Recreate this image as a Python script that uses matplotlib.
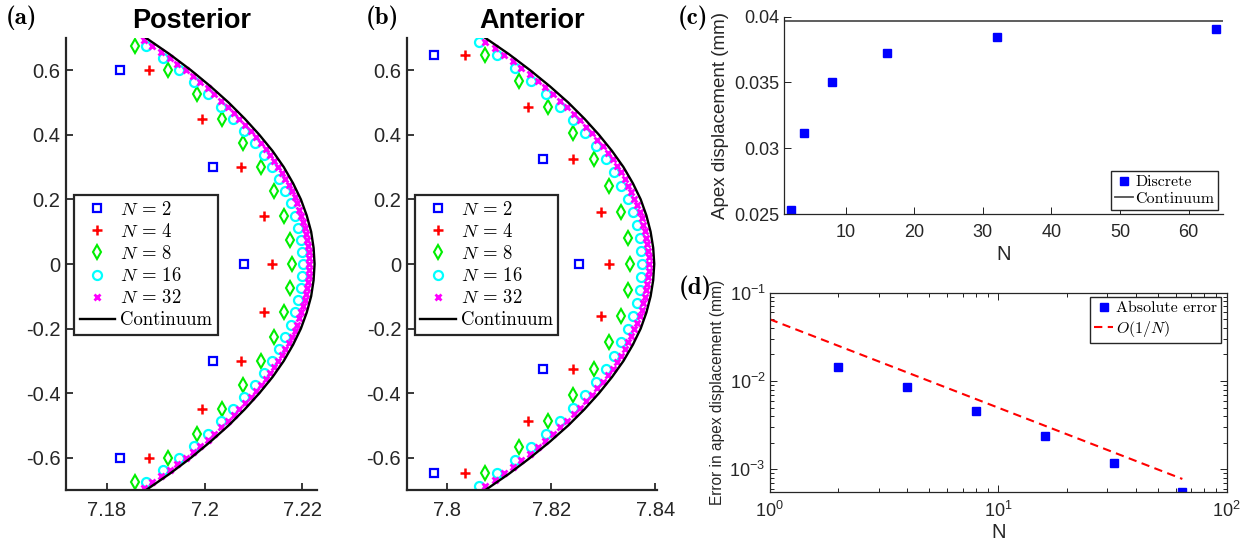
import matplotlib
matplotlib.use('Agg')
import matplotlib.pyplot as plt
from matplotlib import ticker as mticker
from matplotlib.font_manager import FontProperties

plt.rcParams['font.family'] = ['Liberation Sans', 'DejaVu Sans']
plt.rcParams['axes.unicode_minus'] = False

# ---- (a) posterior profile -------------------------------------------
ya2 = [-0.6, -0.3, 0.0, 0.3, 0.6]
xa2 = [7.1827, 7.2017, 7.2080, 7.2017, 7.1827]
ya4 = [-0.6, -0.45, -0.3, -0.15, 0.0, 0.15, 0.3, 0.45, 0.6]
xa4 = [7.1885, 7.1995, 7.2075, 7.2122, 7.2138, 7.2122, 7.2075, 7.1995, 7.1885]
ya8 = [-0.675, -0.6, -0.525, -0.45, -0.375, -0.3, -0.225, -0.15, -0.075, 0.0,
       0.075, 0.15, 0.225, 0.3, 0.375, 0.45, 0.525, 0.6, 0.675]
xa8 = [7.1857, 7.1925, 7.1984, 7.2035, 7.2079, 7.2115, 7.2142, 7.2162, 7.2174, 7.2178,
       7.2174, 7.2162, 7.2142, 7.2115, 7.2079, 7.2035, 7.1984, 7.1925, 7.1857]
ya16 = [-0.675, -0.6375, -0.6, -0.5625, -0.525, -0.4875, -0.45, -0.4125, -0.375, -0.3375,
        -0.3, -0.2625, -0.225, -0.1875, -0.15, -0.1125, -0.075, -0.0375, 0.0, 0.0375,
        0.075, 0.1125, 0.15, 0.1875, 0.225, 0.2625, 0.3, 0.3375, 0.375, 0.4125,
        0.45, 0.4875, 0.525, 0.5625, 0.6, 0.6375, 0.675]
xa16 = [7.1880, 7.1915, 7.1948, 7.1978, 7.2007, 7.2034, 7.2058, 7.2081, 7.2102, 7.2121,
        7.2138, 7.2152, 7.2165, 7.2176, 7.2185, 7.2192, 7.2197, 7.2200, 7.2201, 7.2200,
        7.2197, 7.2192, 7.2185, 7.2176, 7.2165, 7.2152, 7.2138, 7.2121, 7.2102, 7.2081,
        7.2058, 7.2034, 7.2007, 7.1978, 7.1948, 7.1915, 7.1880]
ya32 = [-0.69375, -0.675, -0.65625, -0.6375, -0.61875, -0.6, -0.58125, -0.5625, -0.54375, -0.525,
        -0.50625, -0.4875, -0.46875, -0.45, -0.43125, -0.4125, -0.39375, -0.375, -0.35625, -0.3375,
        -0.31875, -0.3, -0.28125, -0.2625, -0.24375, -0.225, -0.20625, -0.1875, -0.16875, -0.15,
        -0.13125, -0.1125, -0.09375, -0.075, -0.05625, -0.0375, -0.01875, 0.0, 0.01875, 0.0375,
        0.05625, 0.075, 0.09375, 0.1125, 0.13125, 0.15, 0.16875, 0.1875, 0.20625, 0.225,
        0.24375, 0.2625, 0.28125, 0.3, 0.31875, 0.3375, 0.35625, 0.375, 0.39375, 0.4125,
        0.43125, 0.45, 0.46875, 0.4875, 0.50625, 0.525, 0.54375, 0.5625, 0.58125, 0.6,
        0.61875, 0.6375, 0.65625, 0.675, 0.69375]
xa32 = [7.1875, 7.1893, 7.1911, 7.1928, 7.1944, 7.1961, 7.1976, 7.1991, 7.2006, 7.2020,
        7.2034, 7.2047, 7.2059, 7.2071, 7.2083, 7.2094, 7.2105, 7.2115, 7.2125, 7.2134,
        7.2142, 7.2151, 7.2158, 7.2165, 7.2172, 7.2178, 7.2184, 7.2189, 7.2194, 7.2198,
        7.2202, 7.2205, 7.2208, 7.2210, 7.2212, 7.2213, 7.2214, 7.2214, 7.2214, 7.2213,
        7.2212, 7.2210, 7.2208, 7.2205, 7.2202, 7.2198, 7.2194, 7.2189, 7.2184, 7.2178,
        7.2172, 7.2165, 7.2158, 7.2151, 7.2142, 7.2134, 7.2125, 7.2115, 7.2105, 7.2094,
        7.2083, 7.2071, 7.2059, 7.2047, 7.2034, 7.2020, 7.2006, 7.1991, 7.1976, 7.1961,
        7.1944, 7.1928, 7.1911, 7.1893, 7.1875]
yc = [-0.7, -0.65, -0.6, -0.55, -0.5, -0.45, -0.4, -0.35, -0.3, -0.25, -0.2, -0.15, -0.1, -0.05, 0.0,
      0.05, 0.1, 0.15, 0.2, 0.25, 0.3, 0.35, 0.4, 0.45, 0.5, 0.55, 0.6, 0.65, 0.7]
xa_cont = [7.1880, 7.1928, 7.1972, 7.2012, 7.2049, 7.2082, 7.2112, 7.2139, 7.2162, 7.2181,
           7.2197, 7.2209, 7.2218, 7.2223, 7.2225, 7.2223, 7.2218, 7.2209, 7.2197, 7.2181,
           7.2162, 7.2139, 7.2112, 7.2082, 7.2049, 7.2012, 7.1972, 7.1928, 7.1880]

# ---- (b) anterior profile --------------------------------------------
yb2 = [-0.648, -0.324, 0.0, 0.324, 0.648]
xb2 = [7.7975, 7.8184, 7.8253, 7.8184, 7.7975]
yb4 = [-0.648, -0.486, -0.324, -0.162, 0.0, 0.162, 0.324, 0.486, 0.648]
xb4 = [7.8034, 7.8156, 7.8243, 7.8295, 7.8312, 7.8295, 7.8243, 7.8156, 7.8034]
yb8 = [-0.648, -0.567, -0.486, -0.405, -0.324, -0.243, -0.162, -0.081, 0.0,
       0.081, 0.162, 0.243, 0.324, 0.405, 0.486, 0.567, 0.648]
xb8 = [7.8073, 7.8138, 7.8195, 7.8243, 7.8282, 7.8312, 7.8334, 7.8347, 7.8351,
       7.8347, 7.8334, 7.8312, 7.8282, 7.8243, 7.8195, 7.8138, 7.8073]
yb16 = [-0.6885, -0.648, -0.6075, -0.567, -0.5265, -0.486, -0.4455, -0.405, -0.3645, -0.324,
        -0.2835, -0.243, -0.2025, -0.162, -0.1215, -0.081, -0.0405, 0.0, 0.0405, 0.081,
        0.1215, 0.162, 0.2025, 0.243, 0.2835, 0.324, 0.3645, 0.405, 0.4455, 0.486,
        0.5265, 0.567, 0.6075, 0.648, 0.6885]
xb16 = [7.8061, 7.8096, 7.8130, 7.8161, 7.8191, 7.8218, 7.8243, 7.8266, 7.8286, 7.8305,
        7.8321, 7.8335, 7.8347, 7.8357, 7.8364, 7.8370, 7.8373, 7.8374, 7.8373, 7.8370,
        7.8364, 7.8357, 7.8347, 7.8335, 7.8321, 7.8305, 7.8286, 7.8266, 7.8243, 7.8218,
        7.8191, 7.8161, 7.8130, 7.8096, 7.8061]
yb32 = [-0.6885, -0.66825, -0.648, -0.62775, -0.6075, -0.58725, -0.567, -0.54675, -0.5265, -0.50625,
        -0.486, -0.46575, -0.4455, -0.42525, -0.405, -0.38475, -0.3645, -0.34425, -0.324, -0.30375,
        -0.2835, -0.26325, -0.243, -0.22275, -0.2025, -0.18225, -0.162, -0.14175, -0.1215, -0.10125,
        -0.081, -0.06075, -0.0405, -0.02025, 0.0, 0.02025, 0.0405, 0.06075, 0.081, 0.10125,
        0.1215, 0.14175, 0.162, 0.18225, 0.2025, 0.22275, 0.243, 0.26325, 0.2835, 0.30375,
        0.324, 0.34425, 0.3645, 0.38475, 0.405, 0.42525, 0.4455, 0.46575, 0.486, 0.50625,
        0.5265, 0.54675, 0.567, 0.58725, 0.6075, 0.62775, 0.648, 0.66825, 0.6885]
xb32 = [7.8074, 7.8092, 7.8109, 7.8127, 7.8143, 7.8159, 7.8175, 7.8189, 7.8204, 7.8218,
        7.8231, 7.8244, 7.8256, 7.8267, 7.8279, 7.8289, 7.8299, 7.8309, 7.8318, 7.8326,
        7.8334, 7.8341, 7.8348, 7.8354, 7.8360, 7.8365, 7.8370, 7.8374, 7.8377, 7.8380,
        7.8383, 7.8385, 7.8386, 7.8387, 7.8387, 7.8387, 7.8386, 7.8385, 7.8383, 7.8380,
        7.8377, 7.8374, 7.8370, 7.8365, 7.8360, 7.8354, 7.8348, 7.8341, 7.8334, 7.8326,
        7.8318, 7.8309, 7.8299, 7.8289, 7.8279, 7.8267, 7.8256, 7.8244, 7.8231, 7.8218,
        7.8204, 7.8189, 7.8175, 7.8159, 7.8143, 7.8127, 7.8109, 7.8092, 7.8074]
xb_cont = [7.8074, 7.8119, 7.8160, 7.8198, 7.8233, 7.8264, 7.8292, 7.8317, 7.8339, 7.8357,
           7.8372, 7.8383, 7.8391, 7.8396, 7.8398, 7.8396, 7.8391, 7.8383, 7.8372, 7.8357,
           7.8339, 7.8317, 7.8292, 7.8264, 7.8233, 7.8198, 7.8160, 7.8119, 7.8074]

# ---- (c), (d) apex displacement ----------------------------------------
n_vals = [2, 4, 8, 16, 32, 64]
apex_disc = [0.0253, 0.03113, 0.0350, 0.03723, 0.03846, 0.03906]
apex_cont = 0.03967
abs_err = [0.0143, 0.0085, 0.0046, 0.0024, 0.00118, 0.00056]
ref_n = [1, 64]
ref_err = [0.05, 0.00078]

series_labels = [r'$N\,=\,2$', r'$N\,=\,4$', r'$N\,=\,8$', r'$N\,=\,16$', r'$N\,=\,32$']
AXC = '#262626'


def marker_styles():
    return [dict(marker='s', color='#0000ff', mfc='none', ms=5.5, mew=1.6),
            dict(marker='+', color='#ff0000', ms=6.5, mew=1.8),
            dict(marker='d', color='#00ee00', mfc='none', ms=7.6, mew=1.5),
            dict(marker='o', color='#00ffff', mfc='none', ms=6.5, mew=1.6),
            dict(marker='x', color='#ff00ff', ms=3.8, mew=2.0)]


def style_axes(ax, lw, size, box=False):
    for s in ['top', 'right']:
        ax.spines[s].set_visible(box)
    for s in ax.spines.values():
        s.set_linewidth(lw)
        s.set_color(AXC)
    ax.tick_params(which='both', direction='in', colors=AXC, labelsize=size,
                   width=lw * 0.8, top=box, right=box)
    ax.tick_params(which='major', length=5)
    ax.tick_params(which='minor', length=3)


def gfmt(v, p):
    return '%g' % (round(v, 5) + 0.0)


def shape_panel(ax, xs, ys, xc, xlim, xticks, title):
    for x, y, st, lab in zip(xs, ys, marker_styles(), series_labels):
        ax.plot(x, y, linestyle='none', label=lab, **st)
    ax.plot(xc, yc, color='k', lw=1.7, label=r'Continuum')
    ax.set_xlim(xlim)
    ax.set_ylim(-0.7, 0.7)
    ax.set_xticks(xticks)
    ax.set_yticks([-0.6, -0.4, -0.2, 0.0, 0.2, 0.4, 0.6])
    ax.xaxis.set_major_formatter(mticker.FuncFormatter(gfmt))
    ax.yaxis.set_major_formatter(mticker.FuncFormatter(gfmt))
    style_axes(ax, 1.6, 14.5)
    ax.tick_params(axis='x', pad=8)
    ax.tick_params(axis='y', pad=4)
    ax.set_title(title, fontsize=19.5, fontweight='bold', pad=7, color='k')
    leg = ax.legend(loc='lower left', bbox_to_anchor=(0.032, 0.343), borderaxespad=0,
                    prop=FontProperties(family='cmr10', size=13.5, math_fontfamily='cm'),
                    numpoints=1, handlelength=1.9, handletextpad=0.25, borderpad=0.3,
                    labelspacing=0.22, fancybox=False, framealpha=1)
    leg.get_frame().set_edgecolor(AXC)
    leg.get_frame().set_linewidth(1.6)


fig = plt.figure(figsize=(12.55, 5.53), dpi=100)

axA = fig.add_axes([0.0526, 0.1139, 0.2000, 0.8174])
shape_panel(axA, [xa2, xa4, xa8, xa16, xa32], [ya2, ya4, ya8, ya16, ya32], xa_cont,
            (7.1716, 7.2230), [7.18, 7.2, 7.22], 'Posterior')

axB = fig.add_axes([0.3241, 0.1139, 0.1997, 0.8174])
shape_panel(axB, [xb2, xb4, xb8, xb16, xb32], [yb2, yb4, yb8, yb16, yb32], xb_cont,
            (7.7923, 7.8404), [7.8, 7.82, 7.84], 'Anterior')

# (c) apex displacement vs N
axC = fig.add_axes([0.6245, 0.6130, 0.3500, 0.3568])
axC.plot(n_vals, apex_disc, linestyle='none', marker='s', color='#0000ff', ms=5.8, label='Discrete')
axC.axhline(apex_cont, color='#505050', lw=1.3, label='Continuum')
axC.set_xlim(1, 65)
axC.set_ylim(0.025, 0.04)
axC.set_xticks([10, 20, 30, 40, 50, 60])
axC.set_yticks([0.025, 0.03, 0.035, 0.04])
axC.yaxis.set_major_formatter(mticker.FuncFormatter(gfmt))
style_axes(axC, 0.9, 13)
axC.tick_params(axis='x', pad=7)
axC.tick_params(axis='y', pad=3)
axC.set_xlabel('N', fontsize=14.5, color=AXC, labelpad=3)
axC.set_ylabel('Apex displacement (mm)', fontsize=13.5, color=AXC, labelpad=4)
leg = axC.legend(loc='lower right', bbox_to_anchor=(0.989, 0.02), borderaxespad=0,
                 prop=FontProperties(family='cmr10', size=11.5), numpoints=1,
                 handlelength=1.1, handletextpad=0.15, borderpad=0.25, labelspacing=0.15,
                 fancybox=False, framealpha=1)
leg.get_frame().set_edgecolor(AXC)
leg.get_frame().set_linewidth(1.0)

# (d) error, log-log
axD = fig.add_axes([0.6133, 0.1109, 0.3641, 0.3599])
axD.loglog(n_vals, abs_err, linestyle='none', marker='s', color='#0000ff', ms=5.8, label='Absolute error')
axD.loglog(ref_n, ref_err, color='#ff0000', lw=1.5, linestyle=(0, (4, 2.6)), label=r'$O(1/N)$')
axD.set_xlim(1, 100)
axD.set_ylim(abs_err[-1], 0.1)
style_axes(axD, 0.9, 13, box=True)
axD.tick_params(axis='x', pad=7)
axD.tick_params(axis='y', pad=3)
axD.set_xlabel('N', fontsize=14.5, color=AXC, labelpad=1)
axD.set_ylabel('Error in apex displacement (mm)', fontsize=11.2, color=AXC, labelpad=3)
leg = axD.legend(loc='upper right', bbox_to_anchor=(0.9875, 0.977), borderaxespad=0,
                 prop=FontProperties(family='cmr10', size=11.5, math_fontfamily='cm'), numpoints=1,
                 handlelength=1.2, handletextpad=0.15, borderpad=0.25, labelspacing=0.2,
                 fancybox=False, framealpha=1)
leg.get_frame().set_edgecolor(AXC)
leg.get_frame().set_linewidth(1.0)

# panel letters
lab_font = FontProperties(family='cmb10', size=18)
for txt, x, y in [('(a)', 6, 18), ('(b)', 366, 18), ('(c)', 678, 18), ('(d)', 679, 288)]:
    fig.text(x / 1255.0, 1 - y / 553.0, txt, fontproperties=lab_font, ha='left', va='center')

fig.savefig('out.png', dpi=100)
